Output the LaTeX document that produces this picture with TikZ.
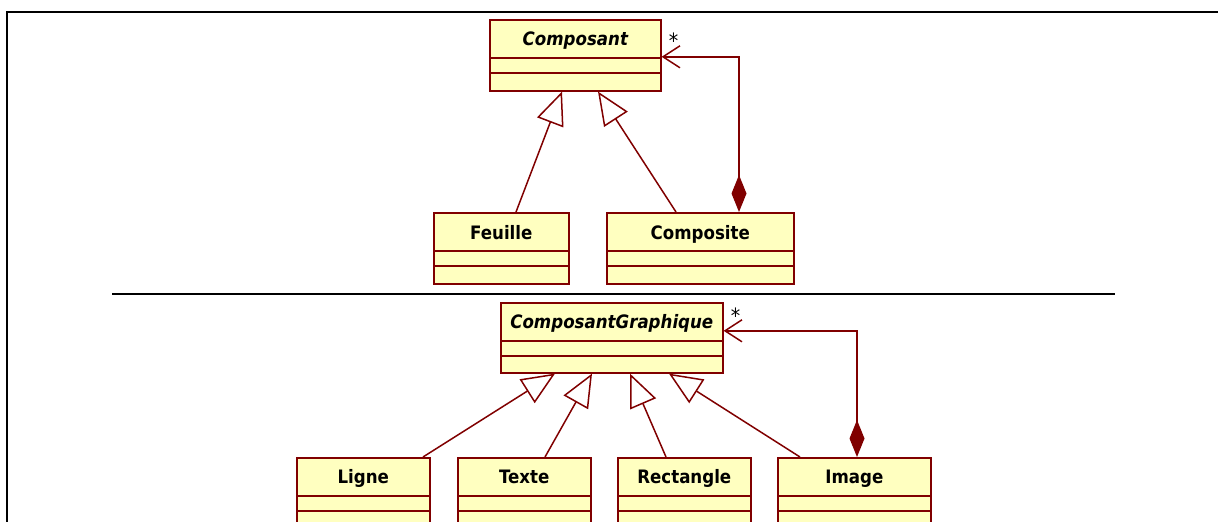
\documentclass[tikz,border=0pt]{standalone}
\usepackage{fontspec}
\setmainfont{DejaVu Sans Condensed}
\usetikzlibrary{arrows.meta, positioning, calc}
\definecolor{umlred}{RGB}{128,0,0}
\definecolor{umlfill}{RGB}{255,255,192}

\begin{document}
\begin{tikzpicture}[x=1pt, y=-1pt, line join=miter,
        clsbox/.style={draw=umlred, fill=umlfill, line width=1.6pt,
                       minimum height=71pt, anchor=north west, inner sep=0pt},
        clsname/.style={font=\fontsize{18.5}{20}\selectfont\bfseries, inner sep=0pt, anchor=base},
        generalize/.style={umlred, line width=1.5pt,
                           -{Triangle[open, length=33pt, width=28pt, fill=white]}},
        compose/.style={umlred, line width=1.5pt,
                        {Diamond[length=37pt, width=15pt]}-{Straight Barb[length=17pt, width=22pt]}},
        mult/.style={font=\fontsize{21}{22}\selectfont, inner sep=0pt}]
        \useasboundingbox (0,0) rectangle (1218,522);
        \clip (0,0) rectangle (1218,522);
        % frame and separator
        \draw[line width=2.4pt] (7,540) -- (7,12) -- (1230,12);
        \draw[line width=2pt] (112,294) -- (1115,294);

        % composite pattern
        \node[clsbox, minimum width=171pt] (composant) at (489,19) {};
        \node[clsbox, minimum width=135pt] (feuille)   at (433,212) {};
        \node[clsbox, minimum width=187pt] (composite) at (606,212) {};

        % graphic objects
        \node[clsbox, minimum width=222pt, minimum height=70pt] (cg) at (500,302) {};
        \node[clsbox, minimum width=133pt] (ligne) at (296,457) {};
        \node[clsbox, minimum width=133pt] (texte) at (457,457) {};
        \node[clsbox, minimum width=133pt] (rect)  at (617,457) {};
        \node[clsbox, minimum width=153pt] (image) at (777,457) {};

        \foreach \c in {composant, feuille, composite, cg, ligne, texte, rect, image} {
            \draw[umlred, line width=1.6pt] ($(\c.north west)+(0,39)$) -- ($(\c.north east)+(0,39)$);
            \draw[umlred, line width=1.6pt] ($(\c.north west)+(0,54)$) -- ($(\c.north east)+(0,54)$);
        }

        \node[clsname] (composant-n) at ($(composant.north)+(0,26.5)$) {\itshape Composant};
        \node[clsname] (feuille-n)   at ($(feuille.north)+(0,27)$)     {Feuille};
        \node[clsname] (composite-n) at ($(composite.north)+(0,27)$)   {Composite};
        \node[clsname] (cg-n)        at ($(cg.north)+(0,26)$)          {\itshape ComposantGraphique};
        \node[clsname] (ligne-n)     at ($(ligne.north)+(0,26.5)$)     {Ligne};
        \node[clsname] (texte-n)     at ($(texte.north)+(0,26.5)$)     {Texte};
        \node[clsname] (rect-n)      at ($(rect.north)+(0,26.5)$)      {Rectangle};
        \node[clsname] (image-n)     at ($(image.north)+(0,26.5)$)     {Image};

        % inheritance
        \draw[generalize] ($(feuille.north west)+(83,0)$)   -- ($(composant.south west)+(73,0)$);
        \draw[generalize] ($(composite.north west)+(70,0)$) -- ($(composant.south west)+(109,0)$);
        \draw[generalize] ($(ligne.north west)+(127,0)$)    -- ($(cg.south west)+(55,0)$);
        \draw[generalize] ($(texte.north west)+(88,0)$)     -- ($(cg.south west)+(92,0)$);
        \draw[generalize] ($(rect.north west)+(49,0)$)      -- ($(cg.south west)+(130,0)$);
        \draw[generalize] ($(image.north west)+(23,0)$)     -- ($(cg.south west)+(169,0)$);

        % composition
        \draw[compose] ($(composite.north west)+(133,0)$) |- ($(composant.east)+(0,1.5)$);
        \draw[compose] ($(image.north west)+(80,0)$) |- ($(cg.east)+(0,-7)$);
        \node[mult] (star-a) at ($(composant.east)+(12,-15)$) {*};
        \node[mult] (star-b) at ($(cg.east)+(12,-22)$) {*};
    \end{tikzpicture}
\end{document}
